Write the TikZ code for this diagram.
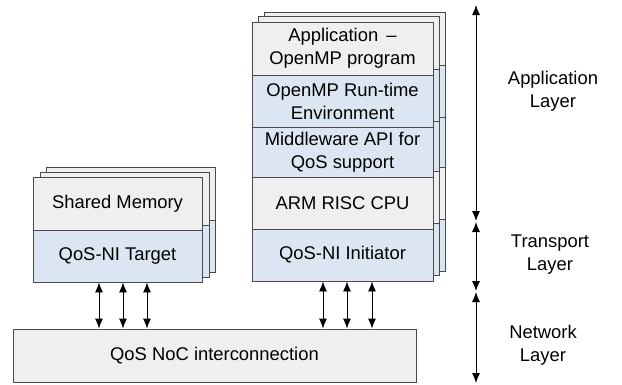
\documentclass[tikz,border=0pt]{standalone}
\usepackage{fontspec}
\setmainfont{Liberation Sans}
\usetikzlibrary{arrows.meta,calc}
\definecolor{boxgray}{HTML}{EEEFEE}
\definecolor{boxblue}{HTML}{DCE6F2}
\definecolor{edge}{HTML}{4A4A4A}
\tikzset{
  layerbox/.style={draw=edge, line width=0.9pt, inner sep=0pt, align=center,
    font=\fontsize{18.4}{23}\selectfont},
  graybox/.style={layerbox, fill=boxgray},
  bluebox/.style={layerbox, fill=boxblue},
  dbl/.style={line width=0.9pt, {Latex[length=10pt,width=8pt]}-{Latex[length=10pt,width=8pt]}},
  layerlabel/.style={align=center, font=\fontsize{18.4}{23}\selectfont}
}
% a box given by its corners (x1,y1) (x2,y2) in pixel units
\newcommand{\slab}[7]{%
  \node[#1, minimum width=\fpeval{(#4)-(#2)}pt, minimum height=\fpeval{(#5)-(#3)}pt]
    (#6) at (\fpeval{((#2)+(#4))/2},\fpeval{((#3)+(#5))/2}) {#7};}
\begin{document}
\begin{tikzpicture}[x=1pt,y=-1pt]
\useasboundingbox (0,0) rectangle (622,384);

% ---- shared memory stack (two copies behind the front one) ----
\foreach \dx/\dy/\t in {13/-10/b, 7/-5/m}{
  \slab{graybox}{33+\dx}{177+\dy}{202+\dx}{230+\dy}{sm\t}{}
  \slab{bluebox}{33+\dx}{230+\dy}{202+\dx}{282+\dy}{tg\t}{}
}
\slab{graybox}{33}{177}{202}{230}{sm}{Shared Memory}
\slab{bluebox}{33}{230}{202}{282}{tgt}{QoS-NI Target}

% ---- processing element stack ----
\foreach \dx/\dy/\t in {12/-10/b, 6/-6/m}{
  \slab{graybox}{252+\dx}{22+\dy}{433+\dx}{75+\dy}{ap\t}{}
  \slab{bluebox}{252+\dx}{75+\dy}{433+\dx}{127+\dy}{rt\t}{}
  \slab{bluebox}{252+\dx}{127+\dy}{433+\dx}{177+\dy}{mw\t}{}
  \slab{graybox}{252+\dx}{177+\dy}{433+\dx}{229+\dy}{cpu\t}{}
  \slab{bluebox}{252+\dx}{229+\dy}{433+\dx}{281+\dy}{ini\t}{}
}
\slab{graybox}{252}{22}{433}{75}{app}{Application \,–\\OpenMP program}
\slab{bluebox}{252}{75}{433}{127}{rt}{OpenMP Run-time\\Environment}
\slab{bluebox}{252}{127}{433}{177}{mw}{Middleware API for\\QoS support}
\slab{graybox}{252}{177}{433}{229}{cpu}{ARM RISC CPU}
\slab{bluebox}{252}{229}{433}{281}{ini}{QoS-NI Initiator}

% ---- interconnect ----
\slab{graybox}{13}{329}{416}{382}{noc}{QoS NoC interconnection}

% ---- links to the interconnect ----
\foreach \x in {99,123,147}{
  \draw[dbl] (tgt.south -| \x,0) -- (noc.north -| \x,0);
}
\foreach \x in {323,347,372}{
  \draw[dbl] (ini.south -| \x,0) -- (noc.north -| \x,0);
}

% ---- layer ranges ----
\coordinate (l0) at (476,5);
\coordinate (l1a) at (476,221);
\coordinate (l1b) at (476,222);
\coordinate (l2a) at (476,291);
\coordinate (l2b) at (476,292);
\coordinate (l3) at (476,383);
\draw[dbl] (l0) -- (l1a);
\draw[dbl] (l1b) -- (l2a);
\draw[dbl] (l2b) -- (l3);

\node[layerlabel] (lapp) at (553,91) {Application\\Layer};
\node[layerlabel] (ltr) at (550,255) {Transport\\Layer};
\node[layerlabel] (lnet) at (543,345) {Network\\Layer};
\end{tikzpicture}
\end{document}
